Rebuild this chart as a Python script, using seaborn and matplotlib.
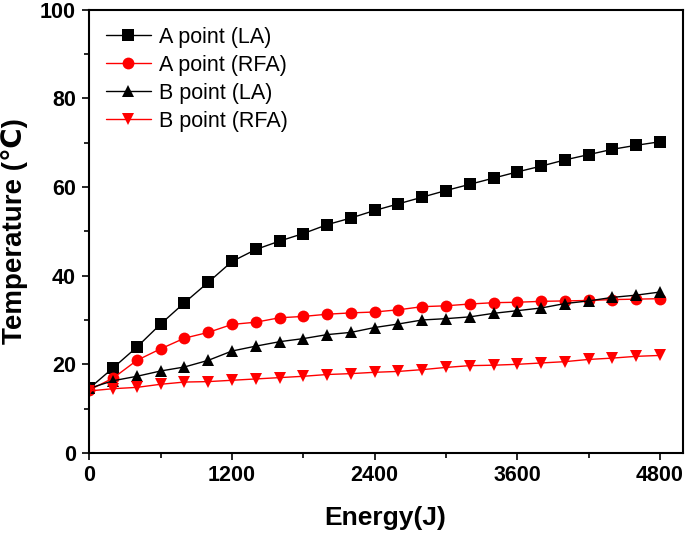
import numpy as np
import pandas as pd
import matplotlib
matplotlib.use("Agg")
import matplotlib.pyplot as plt
import seaborn as sns
from matplotlib.ticker import MultipleLocator

# Energy steps (J)
energy = list(range(0, 4801, 200))

# Temperature readings (°C)
a_la = [14.6, 19.2, 23.9, 29.1, 33.9, 38.5, 43.2, 45.9, 47.8, 49.5, 51.5, 53.0, 54.7,
        56.2, 57.7, 59.2, 60.6, 62.0, 63.4, 64.7, 66.1, 67.3, 68.5, 69.4, 70.2]
a_rfa = [14.2, 16.9, 20.9, 23.5, 25.9, 27.2, 29.0, 29.5, 30.5, 30.8, 31.3, 31.6, 31.8,
         32.3, 33.0, 33.2, 33.6, 33.9, 34.0, 34.2, 34.3, 34.4, 34.6, 34.7, 34.8]
b_la = [14.6, 16.3, 17.3, 18.5, 19.4, 20.9, 23.0, 24.1, 25.1, 25.8, 26.7, 27.2, 28.3,
        29.1, 30.0, 30.3, 30.7, 31.5, 32.1, 32.7, 33.7, 34.3, 35.1, 35.6, 36.3]
b_rfa = [14.0, 14.5, 14.8, 15.5, 16.0, 16.1, 16.4, 16.7, 17.0, 17.3, 17.7, 17.9, 18.2,
         18.4, 18.8, 19.3, 19.7, 19.8, 20.0, 20.3, 20.6, 21.1, 21.4, 21.8, 22.0]

labels = ["A point (LA)", "A point (RFA)", "B point (LA)", "B point (RFA)"]
series = [a_la, a_rfa, b_la, b_rfa]

df = pd.concat([pd.DataFrame({"Energy": energy, "Temp": s, "Series": lab})
                for lab, s in zip(labels, series)], ignore_index=True)

sns.set_style("ticks")
plt.rcParams["font.family"] = ["Liberation Sans", "DejaVu Sans"]
plt.rcParams.update({"text.color": "black", "axes.labelcolor": "black",
                     "xtick.color": "black", "ytick.color": "black",
                     "axes.edgecolor": "black"})

fig = plt.figure(figsize=(6.85, 5.35), dpi=100)
ax = fig.add_axes([0.1293, 0.1533, 0.8671, 0.8287])

palette = {labels[0]: "black", labels[1]: "red", labels[2]: "black", labels[3]: "red"}
markers = {labels[0]: "s", labels[1]: "o", labels[2]: "^", labels[3]: "v"}

sns.lineplot(data=df, x="Energy", y="Temp", hue="Series", style="Series",
             palette=palette, markers=markers, dashes=False, markersize=8.5,
             markeredgewidth=0, linewidth=1, ax=ax)

ax.set_xlim(-7, 4990)
ax.set_ylim(0, 100)
ax.xaxis.set_major_locator(MultipleLocator(1200))
ax.xaxis.set_minor_locator(MultipleLocator(600))
ax.yaxis.set_major_locator(MultipleLocator(20))
ax.yaxis.set_minor_locator(MultipleLocator(10))
ax.tick_params(which="major", direction="out", length=5, width=1.2, labelsize=15.5, pad=4)
ax.tick_params(which="minor", direction="out", length=3.5, width=1.2)
for lab in ax.get_xticklabels() + ax.get_yticklabels():
    lab.set_fontweight("bold")
for sp in ax.spines.values():
    sp.set_visible(True)
    sp.set_linewidth(1.5)

ax.set_xlabel("Energy(J)", fontsize=19, fontweight="bold", labelpad=14)
ax.set_ylabel("Temperature (℃)", fontsize=20, fontweight="bold", labelpad=9)

leg = ax.legend(loc="upper left", frameon=False, fontsize=15.5, handlelength=2.1,
                borderaxespad=0.4, labelspacing=0.32, handletextpad=0.35)

fig.savefig("out.png", dpi=100)
